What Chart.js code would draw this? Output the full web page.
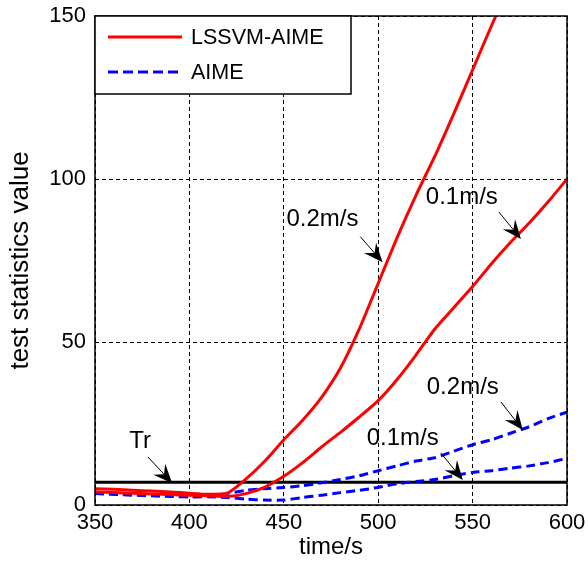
<!DOCTYPE html>
<html>
<head>
<meta charset="utf-8">
<script src="https://cdn.jsdelivr.net/npm/chart.js@4.4.0/dist/chart.umd.min.js"></script>
<style>
  html, body { margin: 0; padding: 0; background: #fff; }
  canvas { display: block; }
</style>
</head>
<body>
<canvas id="c" width="588" height="569"></canvas>
<script>
// time axis (s)
const times = [350, 360, 370, 380, 390, 400, 410, 420, 430, 440, 450, 460, 470,
               480, 490, 500, 510, 520, 530, 540, 550, 560, 570, 580, 590, 600];

// LSSVM-AIME, 0.2 m/s and 0.1 m/s
const lssvm02 = [5, 4.8, 4.5, 4.3, 4, 3.6, 3.3, 3.6, 8, 13.5, 20, 26, 33,
                 42, 54, 68, 82, 95, 107, 120, 133.5, 147, 160, null, null, null];
const lssvm01 = [4, 3.8, 3.6, 3.4, 3.2, 3, 2.8, 2.6, 3.5, 5.5, 8.8, 13, 17.8,
                 22.3, 27, 32, 38.5, 46, 54, 60.5, 67, 74, 80.5, 86.5, 93, 100];

// AIME, 0.2 m/s and 0.1 m/s
const aime02 = [3.5, 3.3, 3.2, 3, 2.8, 2.5, 2.7, 3.5, 4.5, 5, 5.4, 5.9, 6.8,
                7.8, 9, 10.5, 12, 13.5, 14.5, 16.5, 18.5, 20, 22, 24, 26.5, 28.5];
const aime01 = [4, 3.3, 3, 2.8, 2.6, 2.5, 2.5, 2.3, 1.8, 1.5, 1.5, 2.3, 3,
                3.8, 4.5, 5.4, 6.5, 7.2, 7.8, 9, 10, 10.5, 11.3, 12, 13, 14.3];

// threshold Tr
const thresholdTr = 7;

const xTicks = [350, 400, 450, 500, 550, 600];
const yTicks = [0, 50, 100, 150];

// text labels with arrows, in data units: label pos, arrow tail, arrow tip
const notes = [
  { text: '0.2m/s', x: 470.5, y: 87.5, from: [490.5, 82.3], to: [502.3, 74.5] },
  { text: '0.1m/s', x: 544.3, y: 94.5, from: [563.9, 89.9], to: [575.6, 81.6] },
  { text: '0.2m/s', x: 544.8, y: 36, from: [565, 31.6], to: [576.6, 23] },
  { text: '0.1m/s', x: 513, y: 20.3, from: [533.1, 16], to: [544.8, 7.7] },
  { text: 'Tr', x: 373.9, y: 19.6, from: [378.1, 14.7], to: [390.9, 6.7] }
];

const FONT = "'Liberation Sans', Arial, Helvetica, sans-serif";
const RED = '#ff0000';
const BLUE = '#0000ff';

function pts(vals) {
  return times.map((t, i) => ({ x: t, y: vals[i] }));
}

function arrow(ctx, x0, y0, x1, y1) {
  const a = Math.atan2(y1 - y0, x1 - x0);
  const L = 19, W = 8, back = 12;
  const c = Math.cos(a), s = Math.sin(a);
  ctx.beginPath();
  ctx.moveTo(x0, y0);
  ctx.lineTo(x1 - back * c, y1 - back * s);
  ctx.lineWidth = 1;
  ctx.stroke();
  ctx.beginPath();
  ctx.moveTo(x1, y1);
  ctx.lineTo(x1 - L * c - W * s, y1 - L * s + W * c);
  ctx.lineTo(x1 - back * c, y1 - back * s);
  ctx.lineTo(x1 - L * c + W * s, y1 - L * s - W * c);
  ctx.closePath();
  ctx.fill();
}

const extras = {
  id: 'extras',
  afterDatasetsDraw(chart) {
    const { ctx, chartArea: a, scales: { x, y } } = chart;
    ctx.save();
    // axes box
    ctx.strokeStyle = '#000';
    ctx.lineWidth = 1.5;
    ctx.setLineDash([]);
    ctx.strokeRect(a.left, a.top, a.right - a.left, a.bottom - a.top);

    // annotations
    ctx.fillStyle = '#000';
    ctx.strokeStyle = '#000';
    ctx.font = '24px ' + FONT;
    ctx.textAlign = 'center';
    ctx.textBaseline = 'middle';
    notes.forEach(n => {
      ctx.fillText(n.text, x.getPixelForValue(n.x), y.getPixelForValue(n.y));
      arrow(ctx,
        x.getPixelForValue(n.from[0]), y.getPixelForValue(n.from[1]),
        x.getPixelForValue(n.to[0]), y.getPixelForValue(n.to[1]));
    });

    // legend box
    const seen = {};
    const items = chart.data.datasets.filter(d => d.label && !seen[d.label] && (seen[d.label] = true));
    const lx = a.left, ly = a.top, lw = 256, lh = 78;
    ctx.fillStyle = '#fff';
    ctx.fillRect(lx, ly, lw, lh);
    ctx.lineWidth = 1.5;
    ctx.strokeRect(lx, ly, lw, lh);
    ctx.font = '21.5px ' + FONT;
    ctx.textAlign = 'left';
    items.forEach((d, i) => {
      const yy = ly + 21 + i * 35;
      ctx.strokeStyle = d.borderColor;
      ctx.lineWidth = 3;
      ctx.setLineDash(d.borderDash ? [10, 5] : []);
      ctx.beginPath();
      ctx.moveTo(lx + 13, yy);
      ctx.lineTo(lx + 87, yy);
      ctx.stroke();
      ctx.setLineDash([]);
      ctx.fillStyle = '#000';
      ctx.fillText(d.label, lx + 96, yy + 1);
    });
    ctx.restore();
  }
};

const line = (label, vals, color, dash) => ({
  label,
  data: pts(vals),
  borderColor: color,
  borderWidth: 3,
  borderDash: dash,
  pointRadius: 0,
  tension: 0.2,
  fill: false
});

new Chart(document.getElementById('c'), {
  type: 'line',
  data: {
    datasets: [
      line('LSSVM-AIME', lssvm02, RED, undefined),
      line('LSSVM-AIME', lssvm01, RED, undefined),
      line('AIME', aime02, BLUE, [9, 5]),
      line('AIME', aime01, BLUE, [9, 5]),
      {
        label: '',
        data: [{ x: times[0], y: thresholdTr }, { x: times[times.length - 1], y: thresholdTr }],
        borderColor: '#000',
        borderWidth: 3,
        pointRadius: 0
      }
    ]
  },
  options: {
    responsive: false,
    animation: false,
    devicePixelRatio: 1,
    layout: { padding: { top: 16, right: 21, left: 0, bottom: 0 } },
    plugins: { legend: { display: false }, tooltip: { enabled: false } },
    scales: {
      x: {
        type: 'linear',
        min: 350,
        max: 600,
        afterBuildTicks: s => { s.ticks = xTicks.map(v => ({ value: v })); },
        afterFit: s => { s.height = 64; s.paddingLeft = 0; s.paddingRight = 0; },
        ticks: { color: '#000', font: { family: FONT, size: 22 }, padding: 5, maxRotation: 0 },
        grid: { color: '#000', lineWidth: 1, drawTicks: false },
        border: { display: false, dash: [4, 3] },
        title: { display: true, text: 'time/s', color: '#000', font: { family: FONT, size: 24 }, padding: { top: 0, bottom: 7 } }
      },
      y: {
        min: 0,
        max: 150,
        afterBuildTicks: s => { s.ticks = yTicks.map(v => ({ value: v })); },
        afterFit: s => { s.width = 95; s.paddingTop = 0; s.paddingBottom = 0; },
        ticks: { color: '#000', font: { family: FONT, size: 22 }, padding: 9 },
        grid: { color: '#000', lineWidth: 1, drawTicks: false },
        border: { display: false, dash: [4, 3] },
        title: { display: true, text: 'test statistics value', color: '#000', font: { family: FONT, size: 26 }, padding: { top: 5, bottom: 0 } }
      }
    }
  },
  plugins: [extras]
});
</script>
</body>
</html>
